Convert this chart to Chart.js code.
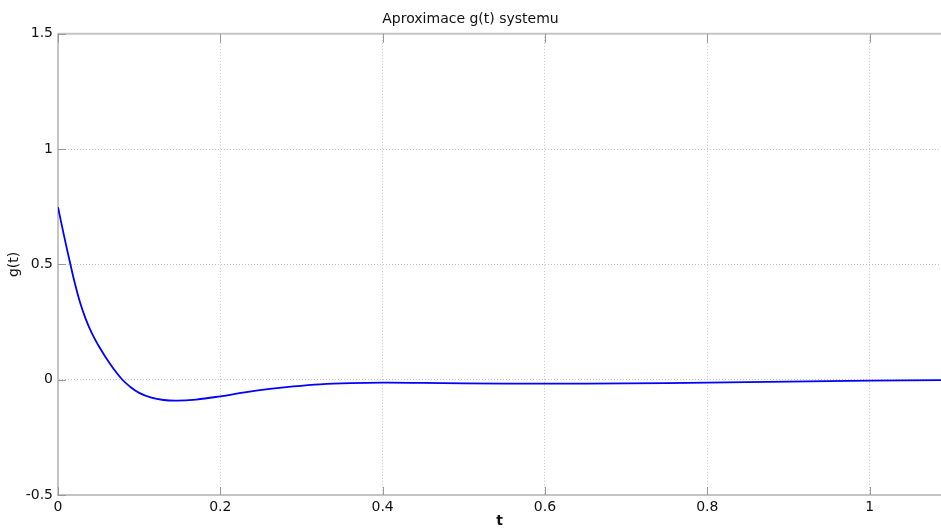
<!DOCTYPE html>
<html>
<head>
<meta charset="utf-8">
<script src="https://cdn.jsdelivr.net/npm/chart.js@4.4.1/dist/chart.umd.min.js"></script>
<style>
  html, body { margin: 0; padding: 0; background: #fff; }
  #wrap { width: 941px; height: 530px; position: relative; }
</style>
</head>
<body>
<div id="wrap"><canvas id="chart"></canvas></div>
<script>
// hodnoty
var tValues = [0, 0.0074, 0.0148, 0.021, 0.0271, 0.034, 0.0415, 0.05, 0.0579, 0.068, 0.0785, 0.088,
               0.1, 0.115, 0.13, 0.146, 0.17, 0.2, 0.23, 0.261, 0.29, 0.323, 0.36, 0.4, 0.45, 0.5,
               0.6, 0.7, 0.8, 0.9, 1.0, 1.088];
var gValues = [0.748, 0.625, 0.508, 0.415, 0.336, 0.265, 0.203, 0.147, 0.102, 0.05, 0.003, -0.028,
               -0.057, -0.078, -0.088, -0.091, -0.086, -0.072, -0.055, -0.04, -0.029, -0.02, -0.015, -0.013, -0.014, -0.016,
               -0.017, -0.016, -0.013, -0.008, -0.004, -0.002];
var xTicks = [0, 0.2, 0.4, 0.6, 0.8, 1];
var yTicks = [-0.5, 0, 0.5, 1, 1.5];

var points = tValues.map(function(t, i) { return { x: t, y: gValues[i] }; });

// rámeček nahoře a krátké značky dovnitř grafu
var framePlugin = {
    id: 'frame',
    afterDraw: function(chart) {
        var ctx = chart.ctx;
        var a = chart.chartArea;
        var xs = chart.scales.x, ys = chart.scales.y;
        ctx.save();
        ctx.strokeStyle = '#c4c4c4';
        ctx.lineWidth = 2;
        ctx.beginPath();
        ctx.moveTo(a.left, a.top);
        ctx.lineTo(a.right, a.top);
        ctx.stroke();
        ctx.strokeStyle = '#999';
        ctx.lineWidth = 1;
        ctx.beginPath();
        xTicks.forEach(function(v) {
            var px = Math.round(xs.getPixelForValue(v)) + 0.5;
            ctx.moveTo(px, a.bottom); ctx.lineTo(px, a.bottom - 8);
            ctx.moveTo(px, a.top); ctx.lineTo(px, a.top + 9);
        });
        yTicks.forEach(function(v) {
            var py = Math.round(ys.getPixelForValue(v)) + 0.5;
            ctx.moveTo(a.left, py); ctx.lineTo(a.left + 8, py);
        });
        ctx.stroke();
        ctx.restore();
    }
};

function tickText(value) { return String(value); }

var ctx = document.getElementById('chart').getContext('2d');
var chart = new Chart(ctx, {
    type: 'line',
    data: {
        datasets: [{
            label: 'g(t)',
            data: points,
            borderColor: '#0000ff',
            borderWidth: 1.8,
            pointRadius: 0,
            fill: false,
            tension: 0.4
        }]
    },
    options: {
        responsive: true,
        maintainAspectRatio: false,
        animation: false,
        layout: { padding: 0 },
        plugins: {
            legend: { display: false },
            tooltip: { enabled: false },
            title: {
                display: true,
                text: 'Aproximace g(t) systemu',
                color: '#111',
                font: { family: 'DejaVu Sans', size: 14, weight: 'normal' },
                padding: { top: 11, bottom: 6 }
            }
        },
        scales: {
            x: {
                type: 'linear',
                min: 0,
                max: 1.088,
                afterFit: function(scale) { scale.height = 35; },
                afterBuildTicks: function(scale) {
                    scale.ticks = xTicks.map(function(v) { return { value: v }; });
                },
                ticks: {
                    includeBounds: false,
                    padding: 4,
                    maxRotation: 0,
                    color: '#111',
                    font: { family: 'DejaVu Sans', size: 14 },
                    callback: tickText
                },
                grid: {
                    color: '#c4c4c4',
                    drawTicks: false
                },
                border: { display: true, color: '#c4c4c4', width: 2, dash: [1, 2] },
                title: {
                    display: true,
                    text: 't',
                    color: '#111',
                    font: { family: 'DejaVu Sans', size: 14, weight: 'bold' },
                    padding: 0
                }
            },
            y: {
                min: -0.5,
                max: 1.5,
                afterFit: function(scale) { scale.width = 58; },
                afterBuildTicks: function(scale) {
                    scale.ticks = yTicks.map(function(v) { return { value: v }; });
                },
                ticks: {
                    padding: 5,
                    color: '#111',
                    font: { family: 'DejaVu Sans', size: 14 },
                    callback: tickText
                },
                grid: {
                    color: '#c4c4c4',
                    drawTicks: false
                },
                border: { display: true, color: '#c4c4c4', width: 2, dash: [1, 2] },
                title: {
                    display: true,
                    text: 'g(t)',
                    color: '#111',
                    font: { family: 'DejaVu Sans', size: 14, weight: 'normal' },
                    padding: { top: 6, bottom: 0 }
                }
            }
        }
    },
    plugins: [framePlugin]
});
</script>
</body>
</html>
